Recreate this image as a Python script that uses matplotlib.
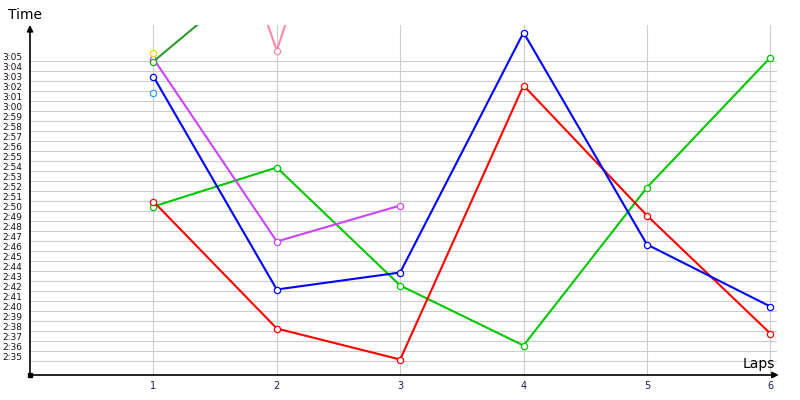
import numpy as np
import matplotlib
matplotlib.use("Agg")
import matplotlib.pyplot as plt
from matplotlib.transforms import ScaledTranslation

# Lap times in seconds (None = no lap recorded).
laps = [1, 2, 3, 4, 5, 6]

red_times    = [170.9, 158.2, 155.1, 182.5, 169.5, 157.7]
blue_times   = [183.4, 162.1, 163.8, 187.8, 166.6, 160.4]
green_times  = [170.4, 174.3, 162.5, 156.5, 172.3, 185.3]
purple_times = [185.2, 166.9, 170.5]
dkgreen_times = [184.9, 195.2]
yellow_times = [185.8]
ltblue_times = [181.8]
pink_times   = [221.2, 186.0, 222.8]

series = [
    (green_times, "#00c800"),
    (red_times, "#ff0000"),
    (blue_times, "#0000ff"),
    (purple_times, "#cc44ff"),
    (dkgreen_times, "#2a9d2a"),
    (yellow_times, "#e6dc00"),
    (ltblue_times, "#3399ff"),
    (pink_times, "#ff8aa6"),
]

# y ticks every second from 2:35 to 3:05
ytick_secs = np.arange(155, 186)
ytick_labels = ["%d:%02d" % (s // 60, s % 60) for s in ytick_secs]


fig = plt.figure(figsize=(8, 4), dpi=100)
ax = fig.add_axes([30/800, 25/400, 746.5/800, 350/400])
ax.set_xlim(0, 6.05)
ax.set_ylim(153.55, 188.55)

for times, col in series:
    ax.plot(laps[:len(times)], times, color=col, lw=1.5,
            marker="o", ms=4.5, mfc="white", mec=col, mew=0.9)

ax.set_xticks(laps)
ax.set_xticklabels([str(l) for l in laps])
ax.set_yticks(ytick_secs)
ax.set_yticklabels(ytick_labels)
ax.grid(True, color="#cccccc", lw=0.8)
ax.set_axisbelow(True)

ax.tick_params(axis="both", length=0)
ax.tick_params(axis="y", pad=5.5, labelsize=6.5, labelcolor="#1a1010")
ax.tick_params(axis="x", pad=4.5, labelsize=7, labelcolor="#1a1a5e")

# labels sit just above their gridline
shift = ScaledTranslation(0, 4.5/100, fig.dpi_scale_trans)
for lab in ax.get_yticklabels():
    lab.set_transform(lab.get_transform() + shift)

for sp in ax.spines.values():
    sp.set_visible(False)

# arrow axes
ax.annotate("", xy=(0, 1.0), xytext=(0, 0), xycoords="axes fraction",
            arrowprops=dict(arrowstyle="-|>", color="black", lw=1.2,
                            mutation_scale=9, shrinkA=0, shrinkB=0))
ax.annotate("", xy=(1.003, 0), xytext=(0, 0), xycoords="axes fraction",
            arrowprops=dict(arrowstyle="-|>", color="black", lw=1.2,
                            mutation_scale=9, shrinkA=0, shrinkB=0))
ax.plot(0, 0, "s", color="black", ms=3, transform=ax.transAxes, clip_on=False)

fig.text(8/800, 1 - 15/400, "Time", fontsize=10, va="center", ha="left")
fig.text(775/800, 1 - 364/400, "Laps", fontsize=10, va="center", ha="right")

fig.savefig("out.png", dpi=100)
